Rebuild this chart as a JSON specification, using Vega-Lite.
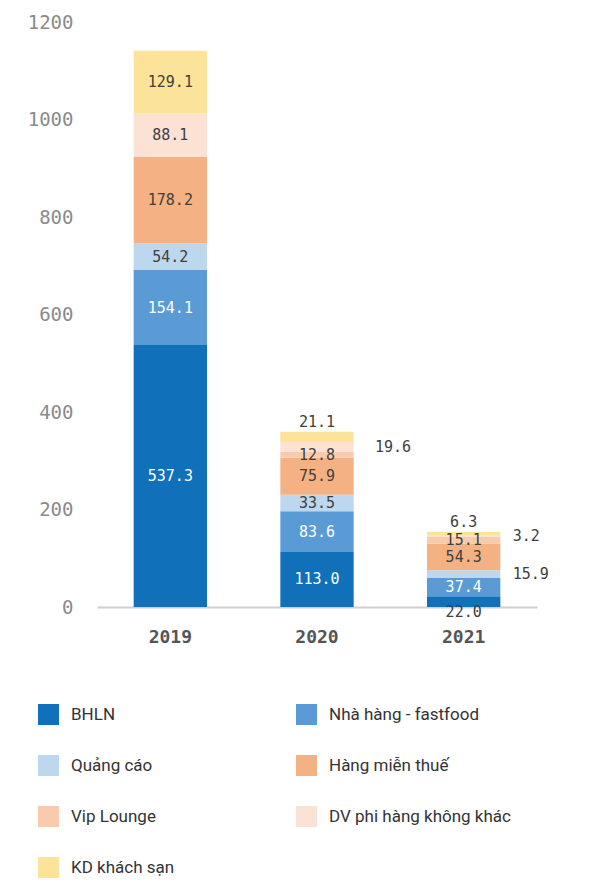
{
  "$schema": "https://vega.github.io/schema/vega-lite/v6.json",
  "autosize": {"type": "none"},
  "padding": {"left": 97, "top": 22, "right": 52, "bottom": 276},
  "width": 440,
  "height": 585,
  "background": "white",
  "config": {"view": {"stroke": null}},
  "data": {"values": [
    {"year": "2019", "category": "BHLN", "value": 537.3},
    {"year": "2019", "category": "Nhà hàng - fastfood", "value": 154.1},
    {"year": "2019", "category": "Quảng cáo", "value": 54.2},
    {"year": "2019", "category": "Hàng miễn thuế", "value": 178.2},
    {"year": "2019", "category": "DV phi hàng không khác", "value": 88.1},
    {"year": "2019", "category": "KD khách sạn", "value": 129.1},
    {"year": "2020", "category": "BHLN", "value": 113.0},
    {"year": "2020", "category": "Nhà hàng - fastfood", "value": 83.6},
    {"year": "2020", "category": "Quảng cáo", "value": 33.5},
    {"year": "2020", "category": "Hàng miễn thuế", "value": 75.9},
    {"year": "2020", "category": "Vip Lounge", "value": 12.8},
    {"year": "2020", "category": "DV phi hàng không khác", "value": 19.6},
    {"year": "2020", "category": "KD khách sạn", "value": 21.1},
    {"year": "2021", "category": "BHLN", "value": 22.0},
    {"year": "2021", "category": "Nhà hàng - fastfood", "value": 37.4},
    {"year": "2021", "category": "Quảng cáo", "value": 15.9},
    {"year": "2021", "category": "Hàng miễn thuế", "value": 54.3},
    {"year": "2021", "category": "Vip Lounge", "value": 15.1},
    {"year": "2021", "category": "DV phi hàng không khác", "value": 3.2},
    {"year": "2021", "category": "KD khách sạn", "value": 6.3}
  ]},
  "transform": [
    {"calculate": "indexof(['BHLN','Nhà hàng - fastfood','Quảng cáo','Hàng miễn thuế','Vip Lounge','DV phi hàng không khác','KD khách sạn'], datum.category)", "as": "ord"},
    {"stack": "value", "groupby": ["year"], "sort": [{"field": "ord", "order": "ascending"}], "as": ["y0", "y1"]},
    {"calculate": "(datum.y0 + datum.y1) / 2", "as": "mid"},
    {"calculate": "format(datum.value, '.1f')", "as": "lbl"}
  ],
  "encoding": {
    "x": {
      "field": "year", "type": "ordinal", "title": null,
      "scale": {"paddingInner": 0.5, "paddingOuter": 0.25},
      "axis": {
        "labelAngle": 0, "ticks": false, "domainColor": "#d0d0d0", "domainWidth": 2,
        "labelFont": "DejaVu Sans Mono", "labelFontSize": 18, "labelFontWeight": "bold",
        "labelColor": "#555555", "labelPadding": 21
      }
    }
  },
  "layer": [
    {
      "mark": {"type": "bar"},
      "encoding": {
        "y": {
          "field": "y1", "type": "quantitative", "title": null,
          "scale": {"domain": [0, 1200], "nice": false},
          "axis": {
            "values": [0, 200, 400, 600, 800, 1000, 1200], "format": "d", "domain": false, "ticks": false, "grid": false,
            "labelFont": "DejaVu Sans Mono", "labelFontSize": 19, "labelColor": "#8a8a8a", "labelPadding": 24
          }
        },
        "y2": {"field": "y0"},
        "color": {
          "field": "category", "type": "nominal",
          "scale": {
            "domain": ["BHLN", "Nhà hàng - fastfood", "Quảng cáo", "Hàng miễn thuế", "Vip Lounge", "DV phi hàng không khác", "KD khách sạn"],
            "range": ["#1070BA", "#5B9BD5", "#BDD7EE", "#F4B183", "#F8CBAD", "#FBE2D5", "#FBE49A"]
          },
          "legend": {
            "title": null, "orient": "none", "legendX": -59, "legendY": 682,
            "columns": 2, "direction": "horizontal", "padding": 0,
            "symbolType": "square", "symbolSize": 441, "symbolStrokeWidth": 0,
            "labelFont": "Roboto", "labelFontSize": 17, "labelColor": "#333333",
            "labelOffset": 12, "rowPadding": 30, "columnPadding": 121, "labelLimit": 300
          }
        }
      }
    },
    {
      "transform": [{"filter": "!((datum.year == '2020' && (datum.category == 'KD khách sạn' || datum.category == 'DV phi hàng không khác')) || (datum.year == '2021' && indexof(['KD khách sạn','DV phi hàng không khác','Quảng cáo','BHLN'], datum.category) >= 0))"}],
      "mark": {"type": "text", "font": "DejaVu Sans Mono", "fontSize": 15, "baseline": "middle", "align": "center"},
      "encoding": {
        "y": {"field": "mid", "type": "quantitative"},
        "text": {"field": "lbl"},
        "color": {"condition": {"test": "indexof(['BHLN','Nhà hàng - fastfood'], datum.category) >= 0", "value": "white"}, "value": "#404040"}
      }
    },
    {
      "transform": [{"filter": "datum.category == 'KD khách sạn' && datum.year != '2019'"}],
      "mark": {"type": "text", "font": "DejaVu Sans Mono", "fontSize": 15, "baseline": "bottom", "align": "center", "dy": -2, "color": "#404040"},
      "encoding": {
        "y": {"field": "y1", "type": "quantitative"},
        "text": {"field": "lbl"}
      }
    },
    {
      "transform": [{"filter": "datum.year == '2020' && datum.category == 'DV phi hàng không khác'"}],
      "mark": {"type": "text", "font": "DejaVu Sans Mono", "fontSize": 15, "baseline": "middle", "align": "left", "dx": 58, "color": "#404040"},
      "encoding": {
        "y": {"field": "mid", "type": "quantitative"},
        "text": {"field": "lbl"}
      }
    },
    {
      "transform": [{"filter": "datum.year == '2021' && (datum.category == 'DV phi hàng không khác' || datum.category == 'Quảng cáo')"}],
      "mark": {"type": "text", "font": "DejaVu Sans Mono", "fontSize": 15, "baseline": "middle", "align": "left", "dx": 49, "color": "#404040"},
      "encoding": {
        "y": {"field": "mid", "type": "quantitative"},
        "text": {"field": "lbl"}
      }
    },
    {
      "transform": [{"filter": "datum.year == '2021' && datum.category == 'BHLN'"}],
      "mark": {"type": "text", "font": "DejaVu Sans Mono", "fontSize": 15, "baseline": "middle", "align": "center", "dy": 5, "color": "#404040"},
      "encoding": {
        "y": {"field": "y0", "type": "quantitative"},
        "text": {"field": "lbl"}
      }
    }
  ]
}
